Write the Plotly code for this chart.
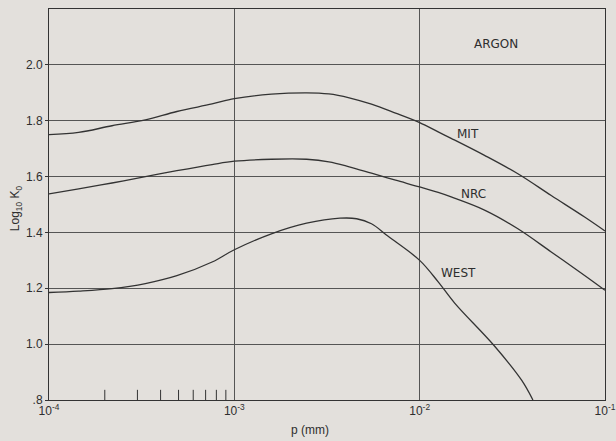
import math
import plotly.graph_objects as go

# Data (x given as log10 of p in mm)
mit_logp = [-4.0, -3.84, -3.66, -3.48, -3.31, -3.12, -3.0, -2.8, -2.61, -2.49, -2.38, -2.26, -2.13, -2.0, -1.9, -1.83, -1.65, -1.47, -1.29, -1.11, -1.0]
mit_val = [1.75, 1.758, 1.782, 1.803, 1.833, 1.86, 1.879, 1.895, 1.90, 1.896, 1.882, 1.859, 1.827, 1.793, 1.76, 1.737, 1.676, 1.61, 1.532, 1.455, 1.405]

nrc_logp = [-4.0, -3.84, -3.66, -3.48, -3.31, -3.12, -3.0, -2.8, -2.61, -2.49, -2.38, -2.26, -2.13, -2.0, -1.9, -1.83, -1.65, -1.47, -1.29, -1.11, -1.0]
nrc_val = [1.538, 1.556, 1.577, 1.60, 1.621, 1.643, 1.655, 1.662, 1.662, 1.653, 1.635, 1.612, 1.587, 1.563, 1.543, 1.527, 1.48, 1.413, 1.33, 1.246, 1.193]

west_logp = [-4.0, -3.84, -3.66, -3.48, -3.31, -3.12, -3.0, -2.8, -2.61, -2.43, -2.34, -2.26, -2.17, -2.0, -1.9, -1.81, -1.6, -1.45, -1.389]
west_val = [1.185, 1.19, 1.199, 1.217, 1.245, 1.294, 1.338, 1.395, 1.433, 1.451, 1.449, 1.431, 1.386, 1.30, 1.223, 1.146, 0.996, 0.871, 0.80]

x_tickvals = [1e-4, 1e-3, 1e-2, 1e-1]
x_ticktext = ["10<sup>-4</sup>", "10<sup>-3</sup>", "10<sup>-2</sup>", "10<sup>-1</sup>"]
y_tickvals = [0.8, 1.0, 1.2, 1.4, 1.6, 1.8, 2.0]
y_ticktext = [".8", "1.0", "1.2", "1.4", "1.6", "1.8", "2.0"]
minor_ticks = [2e-4, 3e-4, 4e-4, 5e-4, 6e-4, 7e-4, 8e-4, 9e-4]

labels = ["ARGON", "MIT", "NRC", "WEST"]
label_x = [2.58e-2, 1.82e-2, 1.94e-2, 1.61e-2]
label_y = [2.075, 1.754, 1.539, 1.254]

line_col = "#333333"
txt_col = "#2e2e2e"
bg = "#e3e0dc"
font_fam = "Liberation Sans, Arial, sans-serif"
label_fam = "DejaVu Sans, Liberation Sans, sans-serif"

fig = go.Figure()
for lp, v in [(mit_logp, mit_val), (nrc_logp, nrc_val), (west_logp, west_val)]:
    fig.add_trace(go.Scatter(x=[10 ** a for a in lp], y=v, mode="lines",
                             line=dict(color=line_col, width=1.3, shape="spline", smoothing=1.0),
                             showlegend=False, hoverinfo="skip"))

for t in minor_ticks:
    fig.add_shape(type="line", xref="x", yref="paper", x0=t, x1=t, y0=0, y1=0.026,
                  line=dict(color=line_col, width=1))

for txt, lx, ly in zip(labels, label_x, label_y):
    fig.add_annotation(x=math.log10(lx), y=ly, text=txt, showarrow=False, xref="x", yref="y",
                       font=dict(size=12, color=txt_col, family=label_fam))

fig.add_annotation(xref="paper", yref="paper", x=-0.058, y=0.49, text="Log<sub>10</sub> K<sub>0</sub>",
                   textangle=-90, showarrow=False, xanchor="center", yanchor="middle",
                   font=dict(size=12, color=txt_col, family=font_fam))
fig.add_annotation(xref="paper", yref="paper", x=0.47, y=-0.077, text="p (mm)",
                   showarrow=False, xanchor="center", yanchor="middle",
                   font=dict(size=12, color=txt_col, family=font_fam))

fig.update_layout(
    width=616, height=441,
    margin=dict(l=49, r=11, t=9, b=41),
    paper_bgcolor=bg, plot_bgcolor=bg,
    font=dict(family=font_fam, size=12, color=txt_col),
    xaxis=dict(type="log", range=[-4, -1], tickvals=x_tickvals, ticktext=x_ticktext,
               showgrid=True, gridcolor="#555", gridwidth=1, zeroline=False, automargin=False,
               showline=True, linecolor="#333", linewidth=1, mirror=True, ticks=""),
    yaxis=dict(range=[0.8, 2.2], tickvals=y_tickvals, ticktext=y_ticktext,
               showgrid=True, gridcolor="#555", gridwidth=1, zeroline=False, automargin=False,
               showline=True, linecolor="#333", linewidth=1, mirror=True, ticks="outside",
               ticklen=3, tickcolor="#333"),
)

fig.write_html("out.html", config={"displayModeBar": False},
               post_script="document.body.style.margin='0';document.body.style.background='%s';" % bg)
